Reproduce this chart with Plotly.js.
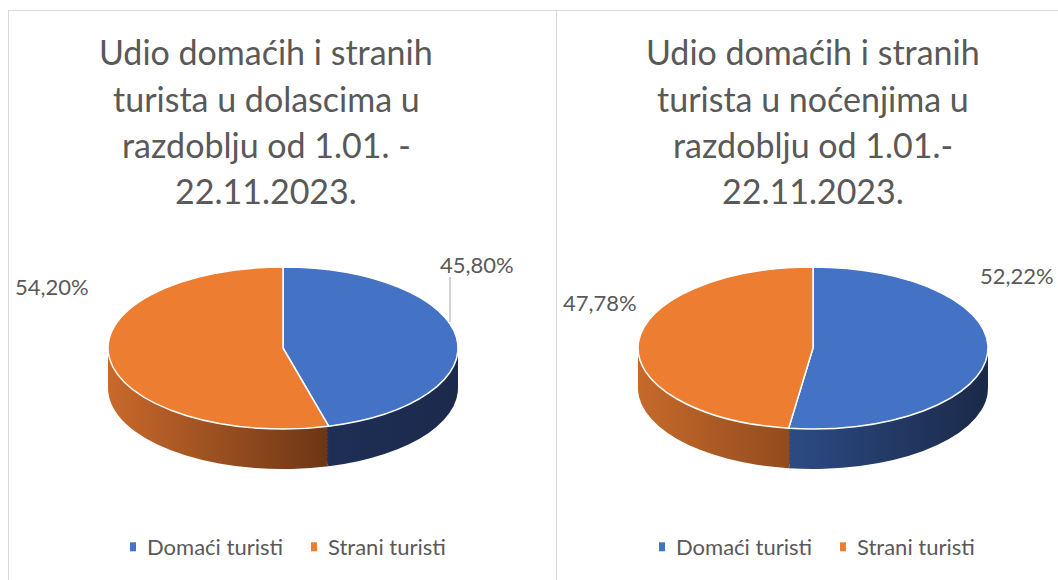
<!DOCTYPE html>
<html>
<head>
<meta charset="utf-8">
<script src="https://cdn.plot.ly/plotly-3.0.1.min.js"></script>
<style>
  html, body { margin: 0; padding: 0; background: #ffffff; }
  body { width: 1058px; height: 580px; position: relative; overflow: hidden; }
  #chartA { position: absolute; left: 0; top: 0; width: 556px; height: 580px; }
  #chartB { position: absolute; left: 556px; top: 0; width: 502px; height: 580px; }
  .frame { position: absolute; background: #d9d9d9; z-index: 5; }
</style>
</head>
<body>
<div id="chartA"></div>
<div id="chartB"></div>
<div class="frame" style="left:8px; top:10px; width:1px; height:570px;"></div>
<div class="frame" style="left:8px; top:10px; width:1050px; height:1px;"></div>
<div class="frame" style="left:556px; top:10px; width:1px; height:570px;"></div>
<script>
// ---------- DATA ----------
const categories = ['Domaći turisti', 'Strani turisti'];
const dolasciShare = [45.80, 54.20];   // % share in arrivals
const nocenjaShare = [52.22, 47.78];   // % share in overnight stays
const titleDolasci = ['Udio domaćih i stranih', 'turista u dolascima u', 'razdoblju od 1.01. -', '22.11.2023.'];
const titleNocenja = ['Udio domaćih i stranih', 'turista u noćenjima u', 'razdoblju od 1.01.-', '22.11.2023.'];

// ---------- STYLE ----------
const topColors = ['#4472c4', '#ed7d31'];
const sideColors = ['#1f2f55', '#a5561f'];
const textColor = '#595959';
const FONT = 'Lato, "Open Sans", sans-serif';
const H = 580;
const SQUASH = 0.463;   // ellipse height / width
const DEPTH = 40;       // thickness of the 3D side in px
const NCOPIES = 10;

function fmtPct(v) { return v.toFixed(2).replace('.', ',') + '%'; }

function buildChart(divId, W, values, titleLines, cfg) {
  const traces = [];
  const dom = { x: cfg.domX, y: cfg.domY };
  for (let k = 0; k < NCOPIES; k++) {
    traces.push({
      type: 'pie', labels: categories, values: values, sort: false,
      direction: 'clockwise', rotation: 0, domain: dom,
      marker: { colors: sideColors, line: { width: 0 } },
      textinfo: 'none', hoverinfo: 'skip', showlegend: false
    });
  }
  traces.push({
    type: 'pie', labels: categories, values: values, sort: false,
    direction: 'clockwise', rotation: 0, domain: dom,
    marker: { colors: topColors, line: { color: '#ffffff', width: 1.5 } },
    textinfo: 'none', hoverinfo: 'label+percent', showlegend: true
  });

  const annotations = [];
  titleLines.forEach((t, i) => {
    annotations.push({
      text: t, xref: 'paper', yref: 'paper', x: cfg.titleX, y: 1 - cfg.titleY[i] / H,
      xanchor: 'center', yanchor: 'middle', showarrow: false,
      font: { family: FONT, size: 34, color: textColor }
    });
  });
  values.forEach((v, i) => {
    const p = cfg.labelPos[i];
    annotations.push({
      text: fmtPct(v), xref: 'paper', yref: 'paper', x: p.x / W, y: 1 - p.y / H,
      xanchor: p.anchor, yanchor: 'middle', showarrow: false,
      font: { family: FONT, size: 22, color: textColor }
    });
  });

  const shapes = (cfg.leader || []).map(l => ({
    type: 'line', xref: 'paper', yref: 'paper',
    x0: l[0] / W, y0: 1 - l[1] / H, x1: l[2] / W, y1: 1 - l[3] / H,
    line: { color: '#a6a6a6', width: 1 }
  }));

  const layout = {
    width: W, height: H, margin: { l: 0, r: 0, t: 0, b: 0 },
    paper_bgcolor: '#ffffff', plot_bgcolor: '#ffffff',
    showlegend: true,
    legend: {
      orientation: 'h', x: cfg.legendX, xanchor: 'center', y: 1 - 547 / H, yanchor: 'middle',
      font: { family: FONT, size: 22, color: textColor }, traceorder: 'normal',
      itemwidth: 30
    },
    annotations: annotations,
    shapes: shapes
  };

  return Plotly.newPlot(divId, traces, layout, { displayModeBar: false, staticPlot: true }).then(gd => {
    const svg = gd.querySelector('svg.main-svg');
    const defs = svg.querySelector('defs');
    const ns = 'http://www.w3.org/2000/svg';
    function grad(id, c0, c1) {
      const g = document.createElementNS(ns, 'linearGradient');
      g.setAttribute('id', id);
      g.setAttribute('x1', '0'); g.setAttribute('y1', '0');
      g.setAttribute('x2', '1'); g.setAttribute('y2', '0');
      const s0 = document.createElementNS(ns, 'stop');
      s0.setAttribute('offset', '0'); s0.setAttribute('stop-color', c0);
      const s1 = document.createElementNS(ns, 'stop');
      s1.setAttribute('offset', '1'); s1.setAttribute('stop-color', c1);
      g.appendChild(s0); g.appendChild(s1); defs.appendChild(g);
    }
    grad(divId + '-gB', cfg.blueGrad[0], cfg.blueGrad[1]);
    grad(divId + '-gO', cfg.orangeGrad[0], cfg.orangeGrad[1]);

    const groups = gd.querySelectorAll('.pielayer .trace');
    groups.forEach((g, i) => {
      const cd0 = gd.calcdata[i][0];
      const cy = cd0.cy;
      const off = i < NCOPIES ? DEPTH * (NCOPIES - i) / NCOPIES : 0;
      g.setAttribute('transform', 'matrix(1 0 0 ' + SQUASH + ' 0 ' + (cy * (1 - SQUASH) + off) + ')');
      const paths = g.querySelectorAll('path.surface');
      paths.forEach((p, j) => {
        p.style.vectorEffect = 'non-scaling-stroke';
        if (i < NCOPIES) {
          p.style.fill = 'url(#' + divId + (j === 0 ? '-gB' : '-gO') + ')';
        }
      });
    });

    // small Excel-like legend markers, placed close to their text
    gd.querySelectorAll('.legend .legendpoints path').forEach(p => {
      const t = p.getAttribute('transform') || '';
      p.setAttribute('transform', t + ' translate(6,0) scale(0.5,0.75)');
      p.style.strokeWidth = '0';
    });
  });
}

buildChart('chartA', 556, dolasciShare, titleDolasci, {
  domX: [(283 - 175) / 556, (283 + 175) / 556],
  domY: [1 - 523 / H, 1 - 173 / H],
  titleX: 266 / 556, titleY: [52, 98, 144, 190],
  labelPos: [{ x: 477, y: 264, anchor: 'center' }, { x: 52, y: 287, anchor: 'center' }],
  leader: [[450, 277, 450, 322]],
  legendX: 279 / 556,
  blueGrad: ['#1f3058', '#1b2a4c'],
  orangeGrad: ['#c9692b', '#6b3616']
});

buildChart('chartB', 502, nocenjaShare, titleNocenja, {
  domX: [(257 - 175) / 502, (257 + 175) / 502],
  domY: [1 - 523 / H, 1 - 173 / H],
  titleX: 257 / 502, titleY: [52, 98, 144, 190],
  labelPos: [{ x: 500, y: 275, anchor: 'right' }, { x: 600 - 556, y: 302, anchor: 'center' }],
  leader: [],
  legendX: (808 - 556) / 502,
  blueGrad: ['#2d4b84', '#1a2948'],
  orangeGrad: ['#c66a2b', '#8a461c']
});
</script>
</body>
</html>
